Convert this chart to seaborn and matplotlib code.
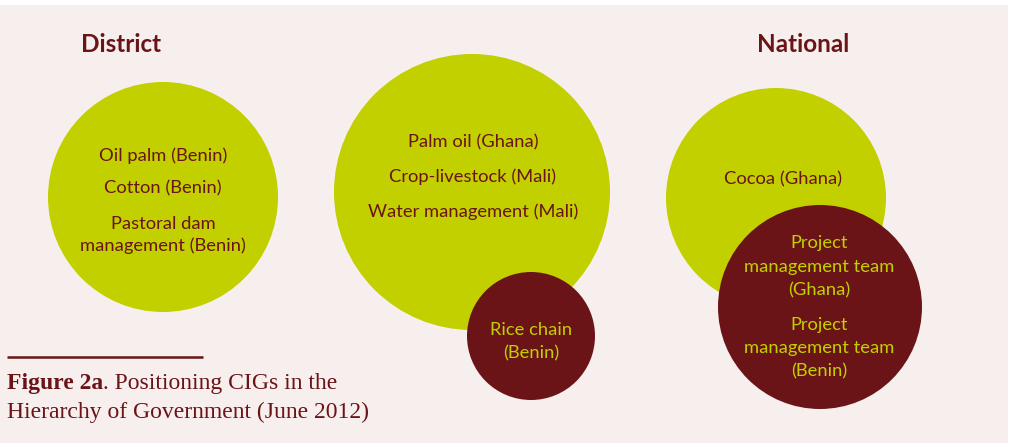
import matplotlib
matplotlib.use("Agg")
import matplotlib.pyplot as plt
import seaborn as sns
from matplotlib.patches import Circle, Rectangle

# Colours
GREEN = "#c2d000"
MAROON = "#6b1418"
BG = "#f7efee"

# Circle groups: label lines, centre, radius, fill
circle_names = ["district", "middle", "rice", "cocoa", "pmt"]
circle_x = [163, 472, 531, 776, 820]
circle_y = [197, 192, 336, 198, 307]
circle_r = [115, 138, 64, 110, 102]
circle_fill = [GREEN, GREEN, MAROON, GREEN, MAROON]

# Text inside the circles (line, y position)
circle_text = {
    "district": [("Oil palm (Benin)", 156), ("Cotton (Benin)", 188),
                 ("Pastoral dam", 224), ("management (Benin)", 246)],
    "middle": [("Palm oil (Ghana)", 142), ("Crop-livestock (Mali)", 177),
               ("Water management (Mali)", 212)],
    "rice": [("Rice chain", 330), ("(Benin)", 353)],
    "cocoa": [("Cocoa (Ghana)", 179)],
    "pmt": [("Project", 243), ("management team", 267), ("(Ghana)", 290),
            ("Project", 325), ("management team", 348), ("(Benin)", 371)],
}
text_dx = {"district": 0, "middle": 1, "rice": 0, "cocoa": 7, "pmt": -1}

headers = ["District", "National"]
header_x = [121, 803]

sns.set_theme(style="white")
plt.rcParams["font.family"] = ["Lato", "DejaVu Sans"]

fig = plt.figure(figsize=(10.11, 4.45), dpi=100)
fig.patch.set_facecolor("white")
ax = fig.add_axes([0, 0, 1, 1])
ax.set_xlim(0, 1011)
ax.set_ylim(445, 0)
ax.axis("off")

ax.add_patch(Rectangle((0, 5), 1008, 438, facecolor=BG, edgecolor="none", zorder=0))

for name, x, y, r, fc in zip(circle_names, circle_x, circle_y, circle_r, circle_fill):
    ax.add_patch(Circle((x, y), r, facecolor=fc, edgecolor="none", zorder=1))
    tc = MAROON if fc == GREEN else GREEN
    for line, ty in circle_text[name]:
        ax.text(x + text_dx[name], ty, line, color=tc, fontsize=13.2,
                ha="center", va="center", zorder=2)

for h, hx in zip(headers, header_x):
    ax.text(hx, 45, h, color=MAROON, fontsize=17.5, fontweight="bold",
            ha="center", va="center")

# Caption
CAP = 17
ax.plot([7, 203], [357, 357], color=MAROON, lw=1.8, solid_capstyle="butt")
bold = ax.text(7, 383, "Figure 2a", color=MAROON, fontsize=CAP, fontweight="bold",
               family="Liberation Serif", ha="left", va="center")
ax.text(7, 412, "Hierarchy of Government (June 2012)", color=MAROON,
        fontsize=CAP, family="Liberation Serif", ha="left", va="center")

# place the regular part right after the bold label
fig.canvas.draw()
r = fig.canvas.get_renderer()
bb = bold.get_window_extent(renderer=r)
x_end = ax.transData.inverted().transform((bb.x1, 0))[0]
ax.text(x_end, 383, ". Positioning CIGs in the", color=MAROON, fontsize=CAP,
        family="Liberation Serif", ha="left", va="center")

fig.savefig("out.png", dpi=100, facecolor="white")
